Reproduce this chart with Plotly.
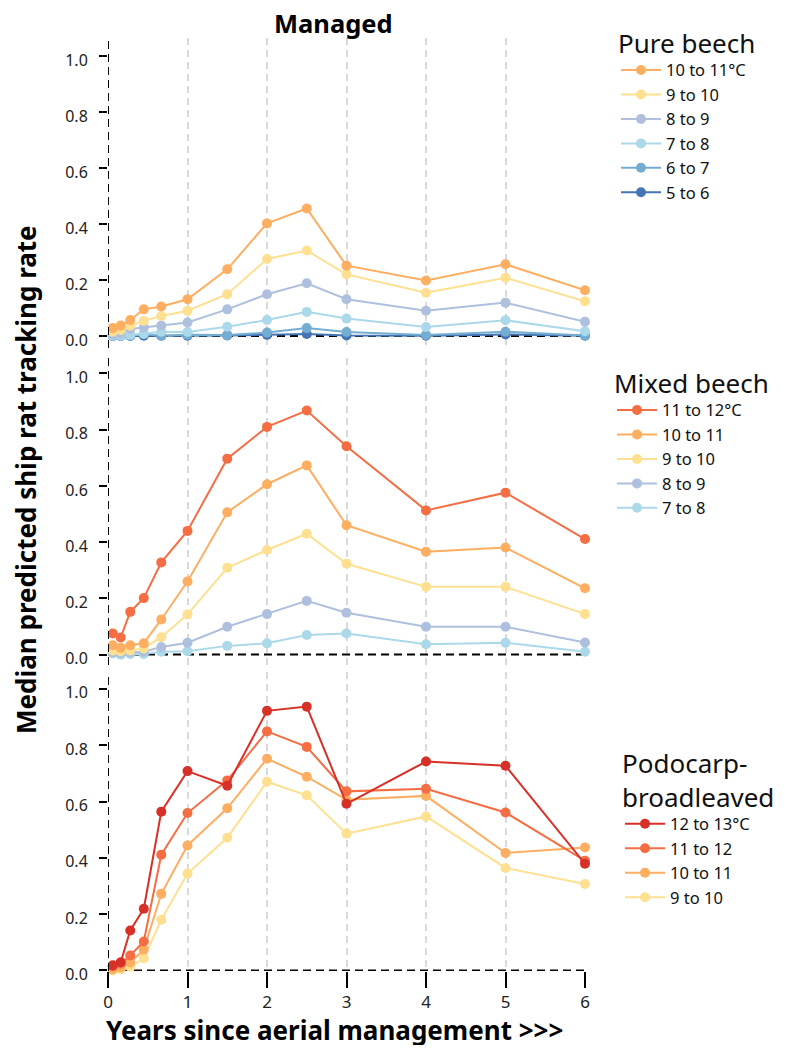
import plotly.graph_objects as go

# ---------------- data ----------------
years = [0.06, 0.16, 0.28, 0.45, 0.67, 1, 1.5, 2, 2.5, 3, 4, 5, 6]
x_ticks = [0, 1, 2, 3, 4, 5, 6]
y_ticks = [0.0, 0.2, 0.4, 0.6, 0.8, 1.0]

# Pure beech
pure_10_11 = [0.028, 0.037, 0.057, 0.095, 0.105, 0.131, 0.238, 0.402, 0.455, 0.251, 0.198, 0.256, 0.163]
pure_9_10 = [0.015, 0.021, 0.037, 0.054, 0.071, 0.090, 0.149, 0.275, 0.305, 0.220, 0.154, 0.208, 0.124]
pure_8_9 = [0.006, 0.009, 0.025, 0.030, 0.037, 0.048, 0.095, 0.149, 0.188, 0.131, 0.090, 0.119, 0.051]
pure_7_8 = [0.002, 0.002, 0.004, 0.008, 0.015, 0.014, 0.033, 0.057, 0.086, 0.062, 0.032, 0.056, 0.017]
pure_6_7 = [0.000, 0.000, 0.001, 0.006, 0.001, 0.004, 0.003, 0.012, 0.028, 0.014, 0.003, 0.015, 0.002]
pure_5_6 = [0.000, 0.000, 0.000, 0.001, 0.001, 0.001, 0.002, 0.004, 0.007, 0.002, 0.001, 0.005, 0.001]

# Mixed beech
mixed_11_12 = [0.075, 0.061, 0.152, 0.201, 0.328, 0.440, 0.697, 0.810, 0.868, 0.741, 0.513, 0.576, 0.411]
mixed_10_11 = [0.033, 0.024, 0.033, 0.040, 0.125, 0.260, 0.506, 0.606, 0.673, 0.460, 0.366, 0.381, 0.236]
mixed_9_10 = [0.015, 0.012, 0.015, 0.022, 0.062, 0.143, 0.309, 0.372, 0.430, 0.323, 0.241, 0.241, 0.144]
mixed_8_9 = [0.008, 0.006, 0.008, 0.010, 0.027, 0.042, 0.099, 0.144, 0.191, 0.149, 0.099, 0.099, 0.043]
mixed_7_8 = [0.004, 0.000, 0.002, 0.002, 0.010, 0.012, 0.031, 0.040, 0.070, 0.075, 0.037, 0.042, 0.010]

# Podocarp-broadleaved
podo_12_13 = [0.018, 0.029, 0.142, 0.219, 0.564, 0.708, 0.656, 0.922, 0.937, 0.592, 0.742, 0.727, 0.379]
podo_11_12 = [0.015, 0.025, 0.053, 0.103, 0.411, 0.559, 0.675, 0.849, 0.794, 0.636, 0.645, 0.561, 0.390]
podo_10_11 = [0.004, 0.011, 0.028, 0.074, 0.272, 0.444, 0.576, 0.752, 0.688, 0.606, 0.620, 0.417, 0.437]
podo_9_10 = [0.000, 0.004, 0.013, 0.043, 0.180, 0.344, 0.471, 0.670, 0.622, 0.486, 0.547, 0.364, 0.307]

pure_labels = ["10 to 11°C", "9 to 10", "8 to 9", "7 to 8", "6 to 7", "5 to 6"]
mixed_labels = ["11 to 12°C", "10 to 11", "9 to 10", "8 to 9", "7 to 8"]
podo_labels = ["12 to 13°C", "11 to 12", "10 to 11", "9 to 10"]

C_5_6 = "#4575b4"
C_6_7 = "#74add1"
C_7_8 = "#abd9e9"
C_8_9 = "#aec0dd"
C_9_10 = "#fee090"
C_10_11 = "#fdae61"
C_11_12 = "#f46d43"
C_12_13 = "#d73027"

FONT = "Noto Sans"

panels = [
    ("y", "x", "legend", [pure_10_11, pure_9_10, pure_8_9, pure_7_8, pure_6_7, pure_5_6],
     pure_labels, [C_10_11, C_9_10, C_8_9, C_7_8, C_6_7, C_5_6]),
    ("y2", "x2", "legend2", [mixed_11_12, mixed_10_11, mixed_9_10, mixed_8_9, mixed_7_8],
     mixed_labels, [C_11_12, C_10_11, C_9_10, C_8_9, C_7_8]),
    ("y3", "x3", "legend3", [podo_12_13, podo_11_12, podo_10_11, podo_9_10],
     podo_labels, [C_12_13, C_11_12, C_10_11, C_9_10]),
]

fig = go.Figure()
for yref, xref, leg, series, labels, colors in panels:
    # draw coldest first so warmer series lie on top; legend reversed
    for vals, lab, col in reversed(list(zip(series, labels, colors))):
        fig.add_trace(go.Scatter(
            x=years, y=vals, name=lab, mode="lines+markers",
            line=dict(color=col, width=2),
            marker=dict(color=col, size=10),
            xaxis=xref, yaxis=yref, legend=leg, cliponaxis=False,
        ))

# page has an 8px body margin; figure sized so the page is exactly 785x1053
OFF = 8
W, H = 785 - 2 * OFF, 1053 - 2 * OFF
# plot area in page px: x 108..585, y 38..971
PX_L, PX_R, PX_T, PX_B = 108, 585, 38, 971
span = PX_B - PX_T
def pf(px):
    return (PX_B - px) / span
def xf(px):
    return (px - PX_L) / (PX_R - PX_L)

dom_top = [pf(348), 1.0]
dom_mid = [pf(665), pf(358)]
dom_bot = [0.0, pf(672)]

xcommon = dict(range=[0, 6], showgrid=True, gridcolor="#d9d9d9", griddash="7px,5px",
               gridwidth=1.5, zeroline=False, showline=False, tickvals=x_ticks)
ycommon = dict(showgrid=False, zeroline=False, showline=False, tickvals=y_ticks,
               tickformat=".1f", ticks="outside", ticklen=8, tickwidth=1.5,
               tickcolor="black", ticklabelstandoff=8, ticklabelshift=4,
               tickfont=dict(size=16, color="#222", family=FONT))

fig.update_layout(
    width=W, height=H,
    margin=dict(l=PX_L - OFF, r=W - (PX_R - OFF), t=PX_T - OFF, b=H - (PX_B - OFF),
                autoexpand=False),
    plot_bgcolor="white", paper_bgcolor="white",
    font=dict(family=FONT, color="black"),
    xaxis=dict(xcommon, anchor="y", showticklabels=False, ticks=""),
    xaxis2=dict(xcommon, anchor="y2", matches="x", showticklabels=False, ticks=""),
    xaxis3=dict(xcommon, anchor="y3", matches="x", ticks="outside", ticklen=16,
                tickwidth=2, tickcolor="black",
                tickfont=dict(size=17, color="#222", family=FONT)),
    yaxis=dict(ycommon, domain=dom_top, range=[-0.043, 1.064], anchor="x"),
    yaxis2=dict(ycommon, domain=dom_mid, range=[-0.037, 1.055], anchor="x2"),
    yaxis3=dict(ycommon, domain=dom_bot, range=[-0.002, 1.06], anchor="x3"),
    showlegend=True,
)

leg_common = dict(traceorder="reversed", bgcolor="rgba(0,0,0,0)",
                  font=dict(size=16.5, family=FONT, color="#111"),
                  xanchor="left", yanchor="top", itemwidth=40, tracegroupgap=0)
title_font = dict(size=26, family=FONT, color="#111")
fig.update_layout(
    legend=dict(leg_common, x=xf(616), y=pf(19),
                title=dict(text="Pure beech", font=title_font)),
    legend2=dict(leg_common, x=xf(612), y=pf(359),
                 title=dict(text="Mixed beech", font=title_font)),
    legend3=dict(leg_common, x=xf(620), y=pf(739),
                 title=dict(text="Podocarp-<br>broadleaved", font=title_font)),
)

# dashed black axis lines at x=0 and y=0 in each panel
shapes = []
for xr, yr in [("x", "y"), ("x2", "y2"), ("x3", "y3")]:
    shapes.append(dict(type="line", xref=xr, yref=f"{yr} domain", x0=0, x1=0, y0=0, y1=1,
                       line=dict(color="black", width=2, dash="8px,5px"), layer="above"))
    shapes.append(dict(type="line", xref=f"{xr} domain", yref=yr, x0=0, x1=1, y0=0, y1=0,
                       line=dict(color="black", width=2, dash="8px,5px"), layer="below"))
fig.update_layout(shapes=shapes)

ann = dict(xref="paper", yref="paper", showarrow=False, xanchor="center", yanchor="middle")
fig.add_annotation(ann, text="<b>Managed</b>", x=xf(333), y=pf(23),
                   font=dict(size=25.5, family=FONT, color="black"))
fig.add_annotation(ann, text="<b>Median predicted ship rat tracking rate</b>",
                   x=xf(26), y=pf(480), textangle=-90,
                   font=dict(size=26, family=FONT, color="black"))
fig.add_annotation(ann, text="<b>Years since aerial management >>></b>",
                   x=xf(334), y=pf(1030),
                   font=dict(size=26, family=FONT, color="black"))

fig.write_html("out.html")
